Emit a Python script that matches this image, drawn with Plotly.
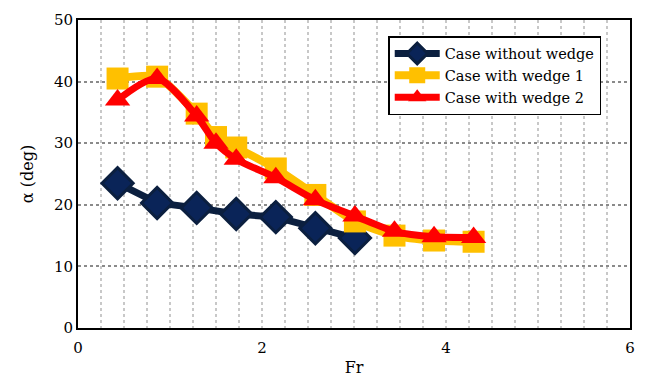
import plotly.graph_objects as go

fr_base = [0.43, 0.86, 1.29, 1.72, 2.15, 2.58, 3.01]
alpha_base = [23.5, 20.3, 19.5, 18.5, 18.0, 16.2, 14.6]

fr_w = [0.43, 0.86, 1.29, 1.50, 1.72, 2.15, 2.58, 3.01, 3.44, 3.87, 4.30]
alpha_w1 = [40.5, 40.8, 34.8, 31.0, 29.3, 25.9, 21.6, 17.3, 15.0, 14.2, 14.0]
alpha_w2 = [37.0, 40.5, 34.4, 30.0, 27.4, 24.4, 20.8, 18.2, 15.7, 14.8, 14.7]

names = ["Case without wedge", "Case with wedge 1", "Case with wedge 2"]

font = "DejaVu Serif"
fig = go.Figure()
fig.add_trace(go.Scatter(x=fr_base, y=alpha_base, name=names[0], mode="lines+markers",
                         line=dict(color="#0b1f3f", width=7),
                         marker=dict(symbol="diamond", size=24, color="#0a2458",
                                     line=dict(color="#0b1f3f", width=3))))
fig.add_trace(go.Scatter(x=fr_w, y=alpha_w1, name=names[1], mode="lines+markers",
                         line=dict(color="#ffc000", width=8, shape="spline", smoothing=0.6),
                         marker=dict(symbol="square", size=22, color="#ffc000")))
fig.add_trace(go.Scatter(x=fr_w, y=alpha_w2, name=names[2], mode="lines+markers",
                         line=dict(color="#ff0000", width=7, shape="spline", smoothing=0.8),
                         marker=dict(symbol="triangle-up", size=22, color="#ff0000")))

fig.update_layout(
    width=639, height=370,
    margin=dict(l=70, r=17, t=12, b=50),
    paper_bgcolor="white", plot_bgcolor="white",
    font=dict(family=font, size=15, color="black"),
    showlegend=True,
    legend=dict(x=0.562, y=0.948, xanchor="left", yanchor="top",
                bgcolor="white", bordercolor="black", borderwidth=1.5,
                font=dict(family=font, size=14.5), tracegroupgap=0,
                itemwidth=45),
    xaxis=dict(range=[0, 6], tickvals=[0, 2, 4, 6], showline=True, mirror=True,
               linecolor="black", linewidth=2, ticks="", zeroline=False,
               automargin=False, ticklabelstandoff=5,
               showgrid=True, gridcolor="#c8c8c8", griddash="dot", gridwidth=1.5,
               minor=dict(dtick=0.25, showgrid=True, gridcolor="#c8c8c8",
                          griddash="dot", gridwidth=1.5),
               title=dict(text="Fr", font=dict(size=16), standoff=6)),
    yaxis=dict(range=[0, 50], dtick=10, showline=True, mirror=True,
               linecolor="black", linewidth=2, ticks="", zeroline=False,
               automargin=False,
               showgrid=True, gridcolor="#8a8a8a", griddash="dot", gridwidth=1.5,
               title=dict(text="α (deg)", font=dict(size=16), standoff=16)),
)

fig.write_html("out.html")
